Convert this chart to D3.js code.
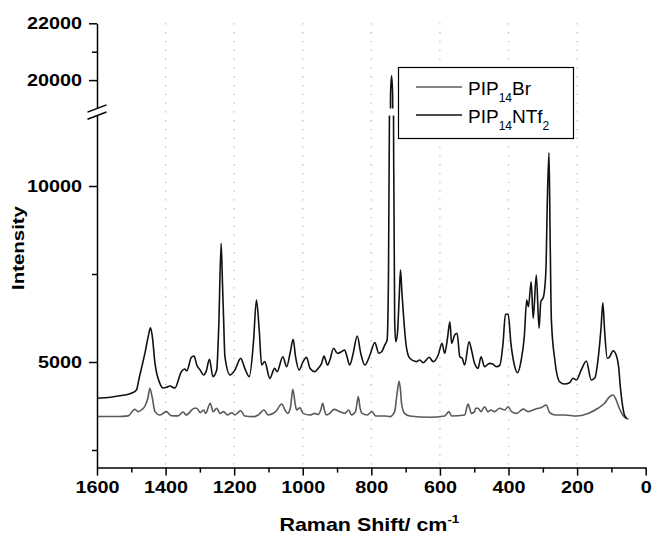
<!DOCTYPE html>
<html><head><meta charset="utf-8">
<script src="https://cdn.jsdelivr.net/npm/d3@7"></script>
<style>body{margin:0;background:#fff}</style>
</head><body><svg id="c" width="653" height="537"></svg>
<script>
// ---- data ----
const ntf2Shift = [1600,1560,1520,1500,1485,1477,1459,1449,1444,1439,1431,1417,1407,1397,1388,1373,1354,1344,1338,1325,1317,1309,1299,1289,1282,1272,1262,1251,1245,1238,1234,1231,1227,1212,1198,1181,1169,1156,1144,1135,1127,1120,1111,1096,1082,1075,1058,1047,1037,1028,1021,1011,999,989,979,965,955,945,938,928,921,910,899,887,878,871,863,854,841,831,819,804,790,778,770,761,754,750,747,744,741,738,735,732,729,724,719,715,711,706,698,688,669,659,649,631,620,605,594,586,578,571,566,557,550,542,535,528,515,508,499,489,480,470,455,446,436,426,416,409,401,393,384,374,363,354,347,342,334,328,319,311,306,298,291,287,282,279,275,265,251,237,222,212,202,188,173,159,149,137,130,125,120,112,105,95,86,79,74,67,62,55];
const ntf2Intensity = [3970,4000,4060,4110,4205,4545,5310,5800,5975,5750,4970,4400,4260,4280,4320,4260,4725,4800,4750,5130,5170,4915,4770,4630,4725,5075,4585,4770,6000,8371,7200,6287,5150,4630,4770,5103,4820,4585,5530,6760,5910,4915,5010,4536,4820,4725,5150,4867,5247,5645,5150,4773,5010,5133,4820,4725,4820,4962,5170,4915,5057,5390,5247,5293,5340,5150,4915,5200,5738,5247,4915,5200,5550,5247,5290,5480,5625,7500,12500,19500,20150,19500,11000,6200,5577,5800,6800,7614,7000,6287,5435,5105,5010,5057,4980,5133,5010,5200,5530,5247,5672,6145,5530,5767,5815,5150,5105,4915,5577,5340,4962,4820,5150,4867,4962,4943,4867,4900,5530,6355,6355,5530,4962,4697,5057,5720,6760,6570,7280,6240,7470,5957,6700,6855,7600,9500,10940,8800,6190,5057,4440,4375,4412,4537,4490,4773,5028,4490,4537,5247,6003,6685,5910,5105,5150,5320,5200,4867,4300,3730,3495,3400];
const brShift = [1600,1540,1509,1490,1480,1469,1460,1451,1446,1439,1431,1417,1398,1383,1364,1349,1340,1316,1309,1299,1289,1283,1270,1261,1251,1241,1231,1220,1207,1198,1181,1169,1144,1130,1113,1101,1079,1061,1052,1044,1036,1029,1022,1018,1008,999,979,965,955,947,942,936,931,921,909,892,878,866,858,846,838,833,827,812,798,787,761,746,732,725,719,715,712,703,688,629,586,574,566,528,518,508,499,496,489,480,470,460,451,441,426,411,401,391,377,357,343,323,304,290,280,265,237,202,168,139,120,105,95,86,77,67,57,50];
const brIntensity = [3450,3450,3470,3656,3590,3650,3750,4000,4253,4000,3590,3495,3590,3475,3470,3580,3495,3685,3685,3560,3637,3540,3827,3590,3685,3540,3590,3495,3560,3495,3617,3466,3447,3495,3637,3495,3590,3807,3637,3540,3700,4225,3800,3637,3700,3540,3495,3540,3510,3650,3827,3600,3495,3540,3655,3590,3540,3637,3495,3600,4015,3700,3540,3495,3590,3466,3466,3447,3590,4111,4450,4200,3827,3540,3466,3430,3466,3590,3466,3495,3807,3540,3590,3685,3685,3590,3730,3590,3637,3590,3685,3637,3730,3590,3540,3660,3590,3660,3710,3780,3560,3495,3495,3466,3540,3685,3827,4015,4063,3920,3685,3495,3400,3380];
const xTicks = [1600,1400,1200,1000,800,600,400,200,0];
const xMinorTicks = [1500,1300,1100,900,700,500,300,100];
const gridTicks = [1400,1200,1000,800,600,400,200];
const yLowTicks = [5000,10000];
const yLowMinorTicks = [2500,7500];
const yHighTicks = [20000,22000];
const yHighMinorTicks = [21000];
const legendLabels = [[["PIP",0],["14",1],["Br",0]],[["PIP",0],["14",1],["NTf",0],["2",1]]];
const seriesColors = ["#5a5a5a","#111111"];

// ---- scales ----
const svg = d3.select("#c");
const FONT = "'Liberation Sans', Arial, Helvetica, sans-serif";
const x = d3.scaleLinear().domain([1600,0]).range([97,645.7]);
const yLow = d3.scaleLinear().domain([2000,12000]).range([467.6,115.6]);
const yHigh = d3.scaleLinear().domain([19000,22000]).range([108.5,23.3]);
const xAxisY = yLow(2000), xLeft = x(1600);

// grid
svg.append("g").selectAll("line").data(gridTicks).join("line")
  .attr("x1", d=>x(d)).attr("x2", d=>x(d))
  .attr("y1", yHigh(22000)).attr("y2", xAxisY)
  .attr("stroke", "#b8b8b8").attr("stroke-width", 1.2)
  .attr("stroke-dasharray", "1.3,7.5");

// clip paths
const defs = svg.append("defs");
defs.append("clipPath").attr("id","clipLow").append("rect")
  .attr("x", xLeft).attr("y", yLow(12000)).attr("width", x(0)-xLeft).attr("height", xAxisY - yLow(12000));
defs.append("clipPath").attr("id","clipHigh").append("rect")
  .attr("x", xLeft).attr("y", 0).attr("width", x(0)-xLeft).attr("height", yHigh(19000));

const series = [
  {shift: brShift, val: brIntensity, color: seriesColors[0]},
  {shift: ntf2Shift, val: ntf2Intensity, color: seriesColors[1]}
];
series.forEach(s => {
  const pts = s.shift.map((w,i)=>[w, s.val[i]]);
  [[yLow,"clipLow"],[yHigh,"clipHigh"]].forEach(([ys,clip]) => {
    const ln = d3.line().x(d=>x(d[0])).y(d=>ys(d[1])).curve(d3.curveMonotoneX);
    svg.append("path").attr("d", ln(pts)).attr("clip-path", `url(#${clip})`)
      .attr("fill","none").attr("stroke", s.color).attr("stroke-width", 1.6)
      .attr("stroke-linejoin","round");
  });
});

// axes
function styleAxis(g){
  g.selectAll(".domain, .tick line").attr("stroke","#000").attr("stroke-width",1.5);
  g.selectAll("text").attr("font-family", FONT).attr("font-weight","bold")
    .attr("font-size","16.5px").attr("fill","#000");
}
const gx = svg.append("g").attr("transform",`translate(0,${xAxisY})`)
  .call(d3.axisBottom(x).tickValues(xTicks).tickSize(8).tickSizeOuter(0).tickFormat(d3.format("d")));
styleAxis(gx);
gx.selectAll("text").attr("y", 13.5).attr("transform","scale(1.2,1)");
const gxm = svg.append("g").attr("transform",`translate(0,${xAxisY})`)
  .call(d3.axisBottom(x).tickValues(xMinorTicks).tickSize(5).tickFormat(""));
styleAxis(gxm); gxm.select(".domain").remove();

function yAxis(scale, major, minor){
  const g = svg.append("g").attr("transform",`translate(${xLeft},0)`)
    .call(d3.axisLeft(scale).tickValues(major).tickSize(8).tickSizeOuter(0).tickFormat(d3.format("d")));
  styleAxis(g);
  g.selectAll("text").attr("x", -12.5).attr("transform","scale(1.2,1)");
  const gm = svg.append("g").attr("transform",`translate(${xLeft},0)`)
    .call(d3.axisLeft(scale).tickValues(minor).tickSize(5).tickFormat(""));
  styleAxis(gm); gm.select(".domain").remove();
}
yAxis(yLow, yLowTicks, yLowMinorTicks);
yAxis(yHigh, yHighTicks, yHighMinorTicks);

// break marks
[yHigh(19000), yLow(12000)].forEach(yy => {
  svg.append("line").attr("x1", xLeft-9.5).attr("y1", yy+3.6).attr("x2", xLeft+9.5).attr("y2", yy-3.6)
    .attr("stroke","#000").attr("stroke-width",1.5);
});

// axis titles
const xt = svg.append("text").attr("transform", `translate(${(xLeft+x(0))/2-2},530.5) scale(1.16,1)`)
  .attr("text-anchor","middle").attr("font-family",FONT).attr("font-weight","bold").attr("font-size","18.5px");
xt.append("tspan").text("Raman Shift/ cm");
xt.append("tspan").attr("dy",-8).attr("font-size","11.5px").text("-1");
svg.append("text").attr("transform","translate(24,248) rotate(-90) scale(1.2,1)")
  .attr("text-anchor","middle").attr("font-family",FONT).attr("font-weight","bold").attr("font-size","17px")
  .text("Intensity");

// legend
const lg = svg.append("g");
lg.append("rect").attr("x",398.5).attr("y",67.5).attr("width",175).attr("height",71)
  .attr("fill","#fff").attr("stroke","#000").attr("stroke-width",1.2);
legendLabels.forEach((parts,i) => {
  const yy = 87 + i*28;
  lg.append("line").attr("x1",416).attr("x2",462).attr("y1",yy).attr("y2",yy)
    .attr("stroke", seriesColors[i]).attr("stroke-width",1.6);
  const t = lg.append("text").attr("x",468).attr("y",yy+8).attr("font-family",FONT).attr("font-size","19px");
  let sub = 0;
  parts.forEach(([s,isSub]) => {
    const sp = t.append("tspan").text(s);
    if (isSub && !sub){ sp.attr("dy",7).attr("font-size","12px"); sub = 1; }
    else if (!isSub && sub){ sp.attr("dy",-7); sub = 0; }
    else if (isSub && sub){ sp.attr("font-size","12px"); }
  });
});
</script></body></html>
